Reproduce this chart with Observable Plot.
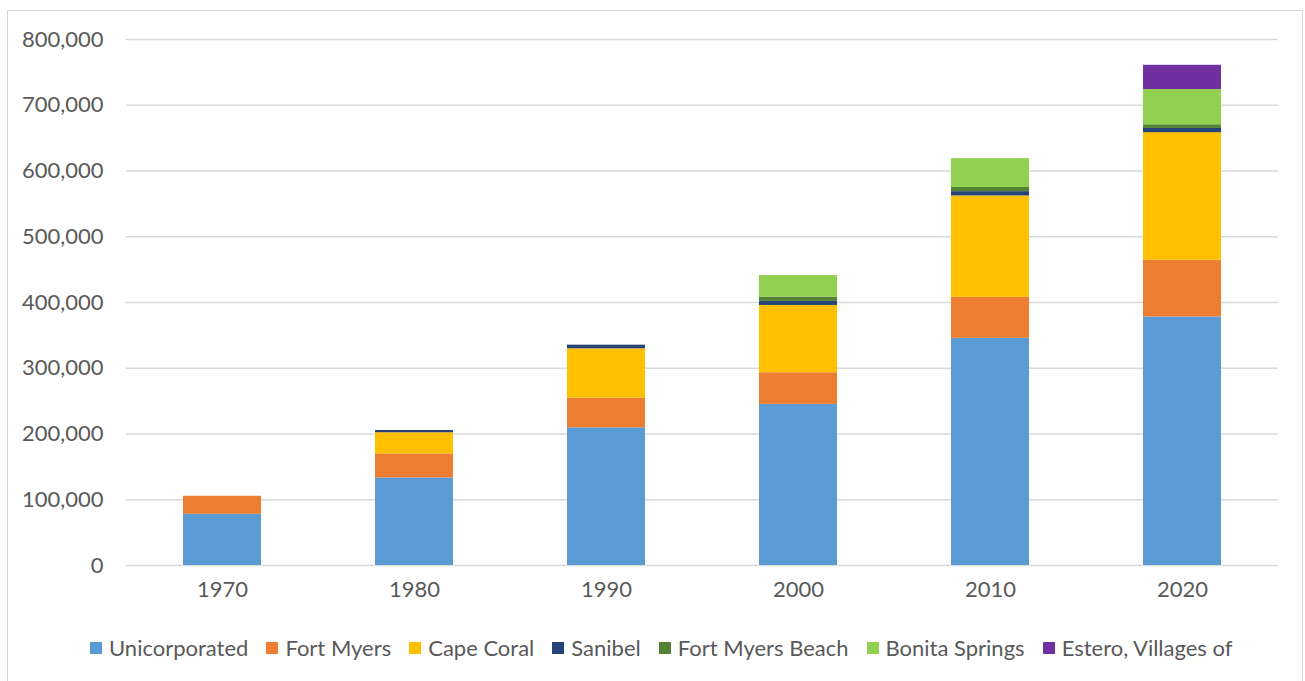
<!DOCTYPE html>
<html><head><meta charset="utf-8">
<script src="https://cdn.jsdelivr.net/npm/d3@7"></script>
<script src="https://cdn.jsdelivr.net/npm/@observablehq/plot@0.6"></script>
<style>
body{margin:0;background:#fff;font-family:Lato,"Open Sans",sans-serif;width:1305px;height:681px;overflow:hidden;position:relative;}
#frame{position:absolute;left:7px;top:10px;width:1296px;height:680px;border:1.5px solid #d9d9d9;box-sizing:border-box;}
#chart{position:absolute;left:0;top:0;}
#legend{position:absolute;left:90px;top:634px;display:flex;align-items:center;font-size:22px;color:#595959;white-space:nowrap;}
.item{display:flex;align-items:center;margin-right:18px;}
.sw{width:12px;height:12px;margin-right:7px;}
</style>
</head><body>
<div id="frame"></div>
<div id="chart"></div>
<div id="legend"></div>
<script>
const years = ["1970","1980","1990","2000","2010","2020"];
const seriesNames = ["Unicorporated","Fort Myers","Cape Coral","Sanibel","Fort Myers Beach","Bonita Springs","Estero, Villages of"];
const seriesColors = ["#5B9BD5","#ED7D31","#FFC000","#264478","#548235","#92D050","#7030A0"];
const unincorporated = [77900,133200,209400,245000,345500,377900];
const fortMyers      = [27400,36600,45200,48200,62300,86400];
const capeCoral      = [0,32100,75000,102300,154300,194000];
const sanibel        = [0,3400,5500,6100,6500,6400];
const fortMyersBeach = [0,0,0,6600,6300,5600];
const bonitaSprings  = [0,0,0,32800,43900,53600];
const estero         = [0,0,0,0,0,36900];
const yTicks = [0,100000,200000,300000,400000,500000,600000,700000,800000];

const seriesValues = [unincorporated,fortMyers,capeCoral,sanibel,fortMyersBeach,bonitaSprings,estero];
const rows = [];
seriesNames.forEach((s,i)=>years.forEach((y,j)=>{ if(seriesValues[i][j]>0) rows.push({year:y,series:s,value:seriesValues[i][j]}); }));

const chart = Plot.plot({
  width:1305, height:625,
  marginTop:39, marginBottom:60, marginLeft:126, marginRight:27,
  style:{fontFamily:"Lato, 'Open Sans', sans-serif", fontSize:"22px", color:"#595959", background:"transparent", overflow:"visible"},
  x:{domain:years, paddingInner:0.594, paddingOuter:0.297, label:null, tickSize:0, tickPadding:16},
  y:{domain:[0,800000], ticks:yTicks, tickFormat:d3.format(","), label:null, tickSize:0, tickPadding:23},
  color:{domain:seriesNames, range:seriesColors},
  marks:[
    Plot.gridY(yTicks,{stroke:"#d9d9d9", strokeOpacity:1, strokeWidth:1.6}),
    Plot.barY(rows,{x:"year", y:"value", fill:"series", order:seriesNames}),
    Plot.axisY({ticks:yTicks, tickFormat:d3.format(","), tickSize:0, tickPadding:23, fontSize:22}),
    Plot.axisX({tickSize:0, tickPadding:16, fontSize:22})
  ]
});
document.getElementById("chart").appendChild(chart);

const leg = document.getElementById("legend");
seriesNames.forEach((s,i)=>{
  const it=document.createElement("div"); it.className="item";
  const sw=document.createElement("div"); sw.className="sw"; sw.style.background=seriesColors[i];
  const t=document.createElement("span"); t.textContent=s;
  it.appendChild(sw); it.appendChild(t); leg.appendChild(it);
});
</script>
</body></html>
